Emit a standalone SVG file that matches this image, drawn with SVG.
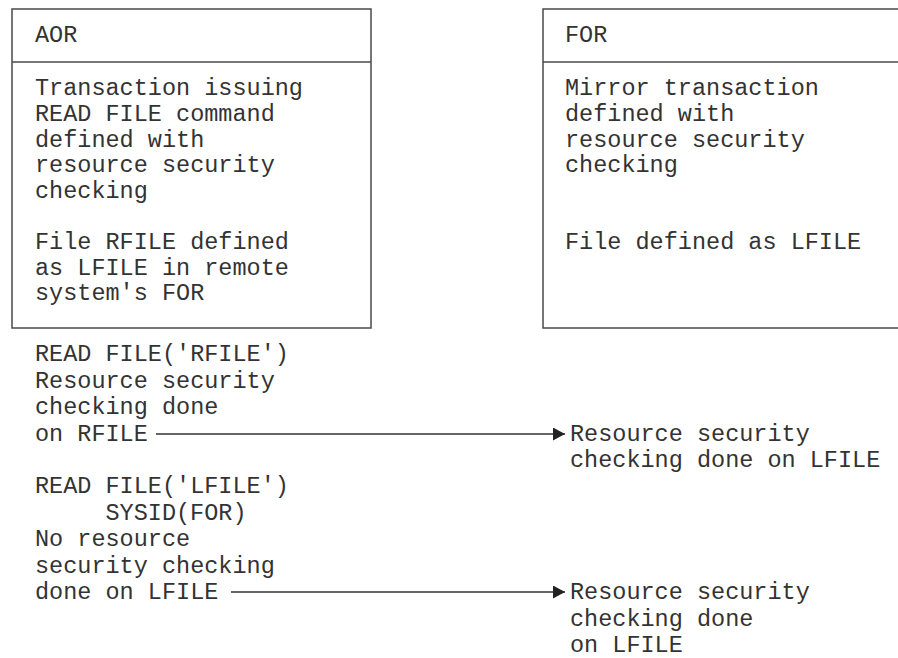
<svg xmlns="http://www.w3.org/2000/svg" width="898" height="658" viewBox="0 0 898 658">
  <style>
    .box { fill: #ffffff; stroke: #4a4a4a; stroke-width: 1.5; }
    .div { stroke: #4a4a4a; stroke-width: 1.5; }
    .t { font-family: "Liberation Mono", "DejaVu Sans Mono", monospace; font-size: 23.5px; fill: #333333; }
    .conn { stroke: #333333; stroke-width: 1.3; fill: none; }
  </style>
  <defs>
    <marker id="arrow" viewBox="0 0 12 13" refX="12" refY="6.5" markerWidth="12" markerHeight="13" markerUnits="userSpaceOnUse" orient="auto">
      <path d="M0,0 L12,6.5 L0,13 Z" fill="#222222"/>
    </marker>
  </defs>

  <!-- Application-owning region -->
  <g id="aor">
    <rect class="box" x="12" y="9" width="359" height="319"/>
    <line class="div" x1="12" y1="62" x2="371" y2="62"/>
    <text class="t" x="35" y="42">AOR</text>
    <text class="t" x="35" y="95">Transaction issuing</text>
    <text class="t" x="35" y="121">READ FILE command</text>
    <text class="t" x="35" y="146.5">defined with</text>
    <text class="t" x="35" y="172">resource security</text>
    <text class="t" x="35" y="198">checking</text>
    <text class="t" x="35" y="249">File RFILE defined</text>
    <text class="t" x="35" y="274.5">as LFILE in remote</text>
    <text class="t" x="35" y="300">system's FOR</text>
  </g>

  <!-- File-owning region -->
  <g id="for">
    <rect class="box" x="543" y="9" width="380" height="319"/>
    <line class="div" x1="543" y1="62" x2="923" y2="62"/>
    <text class="t" x="565" y="42">FOR</text>
    <text class="t" x="565" y="95">Mirror transaction</text>
    <text class="t" x="565" y="121">defined with</text>
    <text class="t" x="565" y="146.5">resource security</text>
    <text class="t" x="565" y="172">checking</text>
    <text class="t" x="565" y="249">File defined as LFILE</text>
  </g>

  <!-- First request: remote name used -->
  <g id="request-rfile">
    <text class="t" x="35" y="361">READ FILE('RFILE')</text>
    <text class="t" x="35" y="387.5">Resource security</text>
    <text class="t" x="35" y="414">checking done</text>
    <text class="t" x="35" y="440.5">on RFILE</text>
  </g>
  <g id="check-rfile">
    <text class="t" x="570" y="440.5">Resource security</text>
    <text class="t" x="570" y="467">checking done on LFILE</text>
  </g>

  <!-- Second request: explicit SYSID -->
  <g id="request-lfile">
    <text class="t" x="35" y="493">READ FILE('LFILE')</text>
    <text class="t" x="105.5" y="519.5">SYSID(FOR)</text>
    <text class="t" x="35" y="546">No resource</text>
    <text class="t" x="35" y="572.5">security checking</text>
    <text class="t" x="35" y="599">done on LFILE</text>
  </g>
  <g id="check-lfile">
    <text class="t" x="570" y="599">Resource security</text>
    <text class="t" x="570" y="625.5">checking done</text>
    <text class="t" x="570" y="652">on LFILE</text>
  </g>

  <g id="connectors">
    <line class="conn" x1="156" y1="434" x2="565" y2="434" marker-end="url(#arrow)"/>
    <line class="conn" x1="231" y1="592" x2="565" y2="592" marker-end="url(#arrow)"/>
  </g>
</svg>
